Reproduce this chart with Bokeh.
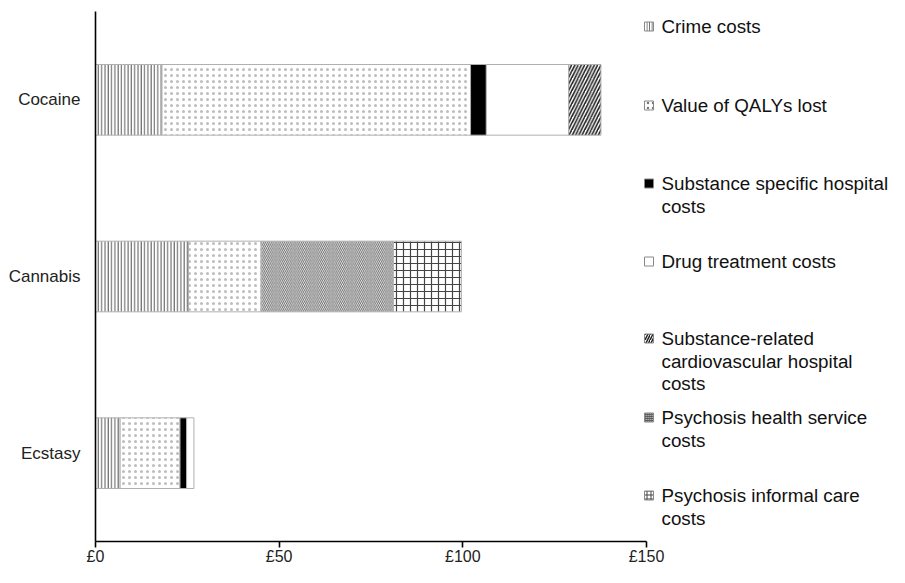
from bokeh.plotting import figure
from bokeh.models import Range1d, FixedTicker, ColumnDataSource
from bokeh.embed import file_html
from bokeh.resources import INLINE
from bokeh.core.properties import value

# ---------------- data ----------------
drugs = ["Cocaine", "Cannabis", "Ecstasy"]
series = ["Crime costs", "Value of QALYs lost", "Substance specific hospital costs",
          "Drug treatment costs", "Substance-related cardiovascular hospital costs",
          "Psychosis health service costs", "Psychosis informal care costs"]
crime_costs = [18.1, 25.3, 6.7]
qaly_lost = [84.0, 19.8, 16.3]
hospital_costs = [4.3, 0.0, 1.8]
treatment_costs = [22.4, 0.0, 2.0]
cardio_costs = [8.8, 0.0, 0.0]
psychosis_health = [0.0, 36.0, 0.0]
psychosis_informal = [0.0, 18.5, 0.0]
x_ticks = [0, 50, 100, 150]
x_tick_labels = ["£0", "£50", "£100", "£150"]
legend_lines = [["Crime costs"], ["Value of QALYs lost"],
                ["Substance specific hospital", "costs"], ["Drug treatment costs"],
                ["Substance-related", "cardiovascular hospital", "costs"],
                ["Psychosis health service", "costs"], ["Psychosis informal care", "costs"]]

values = [crime_costs, qaly_lost, hospital_costs, treatment_costs,
          cardio_costs, psychosis_health, psychosis_informal]

# ---------------- styles ----------------
styles = [
    dict(fill_color="white", hatch_pattern="vertical_line", hatch_color="#555555", hatch_scale=3.3, hatch_weight=1.0),
    dict(fill_color="white", hatch_pattern="dot", hatch_color="#bdbdbd", hatch_scale=6, hatch_weight=1.0),
    dict(fill_color="black"),
    dict(fill_color="white"),
    dict(fill_color="white", hatch_pattern="right_diagonal_line", hatch_color="#222222", hatch_scale=6.5, hatch_weight=1.6),
    dict(fill_color="white", hatch_pattern="left_diagonal_line", hatch_color="#666666", hatch_scale=3.8, hatch_weight=1.0),
    dict(fill_color="white", hatch_pattern="cross", hatch_color="#444444", hatch_scale=7, hatch_weight=1.2),
]
swatch_styles = [
    dict(fill_color="white", hatch_pattern="vertical_line", hatch_color="#555555", hatch_scale=2.5, hatch_weight=1.0),
    dict(fill_color="white", hatch_pattern="dot", hatch_color="#777777", hatch_scale=5, hatch_weight=1.2),
    dict(fill_color="black"),
    dict(fill_color="white"),
    dict(fill_color="white", hatch_pattern="right_diagonal_line", hatch_color="#222222", hatch_scale=5, hatch_weight=1.5),
    dict(fill_color="white", hatch_pattern="left_diagonal_line", hatch_color="#555555", hatch_scale=2, hatch_weight=1.0),
    dict(fill_color="white", hatch_pattern="cross", hatch_color="#444444", hatch_scale=4, hatch_weight=1.0),
]

W, H = 889, 567
n = len(drugs)
y_pos = [n - 0.5 - i for i in range(n)]   # first category at top

# layout geometry (pixels inside the canvas)
ORIGIN_X_PX = 95.0
AXIS_TOP_PX, AXIS_BOTTOM_PX = 11.0, 541.0
PXU = (AXIS_BOTTOM_PX - AXIS_TOP_PX) / n
y_hi = n + AXIS_TOP_PX / PXU
y_lo = -(H - AXIS_BOTTOM_PX) / PXU
X_PX = 551.0 / 150.0
x_lo = -ORIGIN_X_PX / X_PX
x_hi = (W - ORIGIN_X_PX) / X_PX

p = figure(frame_width=W, frame_height=H, output_backend="svg", toolbar_location=None,
           y_range=Range1d(y_lo, y_hi), x_range=Range1d(x_lo, x_hi),
           min_border_left=0, min_border_right=0, min_border_top=0, min_border_bottom=0,
           outline_line_color=None)
p.grid.visible = False
p.background_fill_color = "white"
p.border_fill_color = "white"

# stacked bars
for i, drug in enumerate(drugs):
    left = 0.0
    for s, vals in enumerate(values):
        v = vals[i]
        if v <= 0:
            continue
        p.hbar(y=[y_pos[i]], left=[left], right=[left + v], height=0.4,
               line_color="#b0b0b0", line_width=1, **styles[s])
        left += v

# axes
xa = p.xaxis[0]
xa.fixed_location = 0
xa.bounds = (0, 150)
xa.ticker = FixedTicker(ticks=x_ticks)
xa.major_label_overrides = {t: l for t, l in zip(x_ticks, x_tick_labels)}
xa.minor_tick_line_color = None
xa.major_tick_out = 6
xa.major_tick_in = 0
xa.major_label_standoff = 0
xa.axis_line_width = 1.6
xa.axis_line_color = "black"
xa.major_tick_line_width = 1.6
xa.major_tick_line_color = "black"
xa.major_label_text_font = "Liberation Sans"
xa.major_label_text_font_size = "16px"
xa.major_label_text_color = "#222222"

ya = p.yaxis[0]
ya.fixed_location = 0
ya.bounds = (0, n)
ya.ticker = FixedTicker(ticks=y_pos)
ya.major_label_overrides = {y: d for y, d in zip(y_pos, drugs)}
ya.major_tick_line_color = None
ya.minor_tick_line_color = None
ya.major_tick_out = 0
ya.major_tick_in = 0
ya.major_label_standoff = 15
ya.axis_line_width = 1.6
ya.axis_line_color = "black"
ya.major_label_text_font = "Liberation Sans"
ya.major_label_text_font_size = "17px"
ya.major_label_text_color = "#222222"

# legend (drawn inside plot area, right of the x-axis bounds)
ref_top = 12.0                               # reference axis top (page px)
def ref_to_units(py):
    return n - (py - ref_top) / PXU

legend_first_y = [27, 106, 184, 262, 339, 418, 496]
line_step = 22.7
sw_x = (649.5 - 96.0) / X_PX
tx_x = (662.0 - 96.0) / X_PX

tx, ty, tt = [], [], []
for k, lines in enumerate(legend_lines):
    y0 = legend_first_y[k]
    p.rect(x=[sw_x], y=[ref_to_units(y0)], width=9, height=9,
           width_units="screen", height_units="screen",
           line_color="#888888", line_width=1, **swatch_styles[k])
    for j, line in enumerate(lines):
        tx.append(tx_x)
        ty.append(ref_to_units(y0 + j * line_step))
        tt.append(line)

p.text(x="x", y="y", text="t", source=ColumnDataSource(dict(x=tx, y=ty, t=tt)),
       text_font=value("Liberation Sans"), text_font_size="18.8px",
       text_color="#111111", text_baseline="middle", text_align="left")

open("out.html", "w").write(file_html(p, INLINE))
